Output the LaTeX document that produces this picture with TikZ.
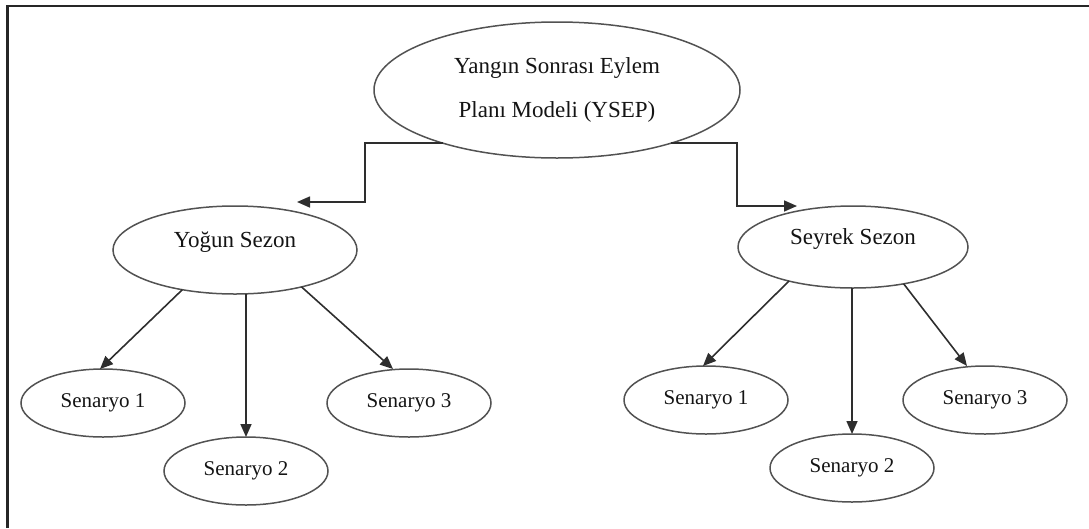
\documentclass[tikz,border=0pt]{standalone}
\usepackage{fontspec}
\setmainfont{Liberation Serif}
\usetikzlibrary{arrows.meta,shapes.geometric,calc}
\begin{document}
\begin{tikzpicture}[x=1pt,y=1pt]
\tikzset{
  ell/.style={ellipse, draw=black!68, line width=1.5pt, inner sep=0pt, outer sep=0pt, text=black!92},
  bigell/.style={ell, font=\fontsize{23}{44}\selectfont},
  sceneell/.style={ell, minimum width=164pt, minimum height=68pt, font=\fontsize{21}{25}\selectfont},
  arr/.style={draw=black!82, line width=1.6pt, -{Triangle[length=13pt,width=11pt]}},
  frame/.style={draw=black!85, line width=2.2pt}
}
\useasboundingbox (0,0) rectangle (1089,-528);
\draw[frame] (7.5,-528) -- (7.5,-6) -- (1089,-6);

\node[bigell, minimum width=366pt, minimum height=136pt, align=center] (top) at (557,-90) {Yangın Sonrası Eylem\\Planı Modeli (YSEP)};
\node[bigell, minimum width=244pt, minimum height=88pt, text height=16pt, text depth=21pt] (yog) at (235,-250) {Yoğun Sezon};
\node[bigell, minimum width=230pt, minimum height=82pt, text height=16pt, text depth=21pt] (sey) at (853,-247) {Seyrek Sezon};

\node[sceneell] (s1) at (103,-403) {Senaryo 1};
\node[sceneell] (s2) at (246,-471) {Senaryo 2};
\node[sceneell] (s3) at (409,-403) {Senaryo 3};
\node[sceneell] (r1) at (706,-400) {Senaryo 1};
\node[sceneell] (r2) at (852,-468) {Senaryo 2};
\node[sceneell] (r3) at (985,-400) {Senaryo 3};

\draw[arr] (top.-155) -- ++(-78,0) |- ($(yog.north)+(62,4)$);
\draw[arr] (top.-25) -- ++(66,0) |- ($(sey.north)+(-56,0)$);

\draw[arr] (yog.-143) -- ($(s1.north)+(-3,0)$);
\draw[arr] (s2.north |- yog.south) -- (s2.north);
\draw[arr] (yog.-29) -- ($(s3.north)+(-16,0)$);

\draw[arr] (sey.-152) -- ($(r1.north)+(-3,0)$);
\draw[arr] (r2.north |- sey.south) -- (r2.north);
\draw[arr] (sey.-36) -- ($(r3.north)+(-18,0)$);
\end{tikzpicture}
\end{document}
